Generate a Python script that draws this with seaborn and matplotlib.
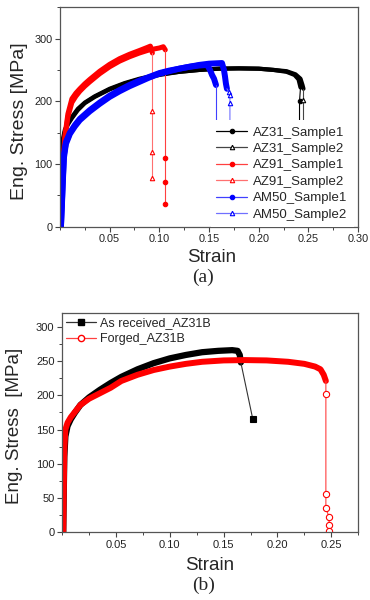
import numpy as np
import matplotlib
matplotlib.use("Agg")
import matplotlib.pyplot as plt
from matplotlib.lines import Line2D
from matplotlib.ticker import FixedLocator, MultipleLocator, StrMethodFormatter
import seaborn as sns

# ---------------- data: panel (a) ----------------
az31_s1_strain = [0.001, 0.002, 0.003, 0.005, 0.008, 0.012, 0.018, 0.025, 0.035, 0.05, 0.065, 0.08,
                  0.10, 0.12, 0.14, 0.16, 0.18, 0.20, 0.215, 0.228, 0.236, 0.240, 0.242, 0.241, 0.241]
az31_s1_stress = [0, 100, 140, 155, 165, 175, 188, 198, 208, 220, 229, 236,
                  243, 247, 250, 252, 252.5, 252, 250, 247, 242, 235, 222, 200, 120]

az31_s2_strain = [0.001, 0.002, 0.003, 0.005, 0.008, 0.012, 0.018, 0.025, 0.035, 0.05, 0.065, 0.08,
                  0.10, 0.12, 0.14, 0.16, 0.18, 0.20, 0.215, 0.228, 0.237, 0.242, 0.244, 0.245, 0.245, 0.245]
az31_s2_stress = [0, 95, 135, 152, 163, 173, 186, 197, 207, 219, 228, 235,
                  242, 247, 250, 252, 252.5, 252, 250, 248, 243, 236, 226, 220, 202, 120]

az91_s1_strain = [0.001, 0.002, 0.003, 0.005, 0.008, 0.012, 0.016, 0.02, 0.025, 0.03, 0.04, 0.05,
                  0.06, 0.07, 0.08, 0.09, 0.10, 0.104, 0.106, 0.106, 0.106, 0.106]
az91_s1_stress = [0, 40, 90, 140, 175, 198, 208, 216, 224, 231, 244, 255,
                  264, 271, 277, 282, 285, 287, 282, 110, 72, 37]

az91_s2_strain = [0.001, 0.002, 0.003, 0.005, 0.008, 0.012, 0.016, 0.02, 0.025, 0.03, 0.04, 0.05,
                  0.06, 0.07, 0.08, 0.088, 0.091, 0.093, 0.093, 0.093, 0.093]
az91_s2_stress = [0, 50, 100, 145, 180, 204, 213, 220, 228, 235, 248, 259,
                  268, 275, 281, 286, 288, 277, 185, 120, 78]

am50_s1_strain = [0.001, 0.002, 0.003, 0.004, 0.006, 0.01, 0.015, 0.02, 0.03, 0.04, 0.05, 0.06,
                  0.07, 0.08, 0.09, 0.10, 0.11, 0.12, 0.13, 0.14, 0.148, 0.151, 0.153, 0.155, 0.157, 0.157]
am50_s1_stress = [0, 40, 80, 115, 135, 150, 162, 172, 186, 198, 209, 218,
                  226, 233, 239, 245, 249, 252, 255, 257, 258, 250, 242, 236, 226, 130]

am50_s2_strain = [0.001, 0.002, 0.003, 0.004, 0.006, 0.01, 0.015, 0.02, 0.03, 0.04, 0.05, 0.06,
                  0.07, 0.08, 0.09, 0.10, 0.11, 0.12, 0.13, 0.14, 0.15, 0.163, 0.165, 0.166, 0.167,
                  0.168, 0.170, 0.171, 0.171, 0.171]
am50_s2_stress = [0, 35, 75, 110, 132, 148, 160, 170, 184, 196, 207, 216,
                  224, 231, 238, 244, 248, 252, 255, 258, 260, 261, 250, 240, 228,
                  220, 215, 210, 198, 130]

labels_a = ["AZ31_Sample1", "AZ31_Sample2", "AZ91_Sample1", "AZ91_Sample2", "AM50_Sample1", "AM50_Sample2"]

# ---------------- data: panel (b) ----------------
asrec_strain = [0.001, 0.0015, 0.002, 0.003, 0.005, 0.008, 0.012, 0.017, 0.025, 0.035, 0.045, 0.055,
                0.07, 0.085, 0.10, 0.115, 0.13, 0.145, 0.158, 0.163, 0.165, 0.166, 0.177]
asrec_stress = [0, 60, 110, 140, 155, 165, 175, 186, 197, 208, 218, 227,
                238, 247, 254, 259, 263, 265, 266, 265, 259, 248, 166]

forged_strain = [0.001, 0.0015, 0.002, 0.003, 0.005, 0.008, 0.012, 0.017, 0.025, 0.035, 0.045, 0.055,
                 0.07, 0.085, 0.10, 0.115, 0.13, 0.15, 0.17, 0.19, 0.21, 0.225, 0.235, 0.240, 0.243,
                 0.245, 0.245, 0.245, 0.245, 0.248, 0.248, 0.248]
forged_stress = [0, 60, 120, 150, 160, 168, 176, 186, 195, 203, 211, 221,
                 230, 237, 242, 246, 249, 251, 251.5, 251, 249, 246, 242, 238, 230,
                 221, 202, 56, 35, 22, 10, 2]

labels_b = ["As received_AZ31B", "Forged_AZ31B"]

xticks_a = [0.05, 0.10, 0.15, 0.20, 0.25, 0.30]
yticks_a = [0, 100, 200, 300]
xticks_b = [0.05, 0.10, 0.15, 0.20, 0.25]
yticks_b = [0, 50, 100, 150, 200, 250, 300]

# ---------------- style ----------------
sns.set_style("ticks")
plt.rcParams['font.family'] = ['Liberation Sans', 'DejaVu Sans']

fig = plt.figure(figsize=(3.7, 6.0), dpi=100)
fig.patch.set_facecolor('white')
ax1 = fig.add_axes([0.162, 0.622, 0.806, 0.366])
ax2 = fig.add_axes([0.168, 0.113, 0.800, 0.365])


def draw_series(ax, strain, stress, color, line_color, marker, mfc, band_lw, ms):
    e = np.asarray(strain, float)
    s = np.asarray(stress, float)
    idx = np.arange(len(s))
    dense = (idx <= s.argmax()) | (s >= 0.84 * s.max())
    cut = int(np.argmax(~dense)) if (~dense).any() else len(s)
    sns.lineplot(x=e[:cut], y=s[:cut], ax=ax, color=color, linewidth=band_lw,
                 sort=False, estimator=None, legend=False, solid_capstyle='round',
                 solid_joinstyle='round')
    sns.lineplot(x=e[cut - 1:], y=s[cut - 1:], ax=ax, color=line_color, linewidth=0.8,
                 sort=False, estimator=None, legend=False)
    ax.plot(e[cut:], s[cut:], ls='none', marker=marker, ms=ms, mfc=mfc, mec=color, mew=0.8)


specs_a = [
    (az31_s1_strain, az31_s1_stress, '#000000', '#000000', 'o', '#000000', 3.0),
    (az31_s2_strain, az31_s2_stress, '#000000', '#444444', '^', 'white', 3.0),
    (az91_s1_strain, az91_s1_stress, '#ff0000', '#ff4040', 'o', '#ff0000', 3.6),
    (az91_s2_strain, az91_s2_stress, '#ff0000', '#ff7070', '^', 'white', 3.6),
    (am50_s1_strain, am50_s1_stress, '#0000ff', '#4040ff', 'o', '#0000ff', 4.3),
    (am50_s2_strain, am50_s2_stress, '#0000ff', '#7070ff', '^', 'white', 4.3),
]
for e, s, c, lc, m, mfc, bw in specs_a:
    draw_series(ax1, e, s, c, lc, m, mfc, bw, 3.2)

handles_a = [Line2D([], [], color=lc, lw=0.9, marker=m, mfc=mfc, mec=c, ms=3.2, mew=0.8)
             for e, s, c, lc, m, mfc, bw in specs_a]
leg1 = ax1.legend(handles_a, labels_a, loc='lower left', bbox_to_anchor=(0.505, 0.0),
                  fontsize=9.5, frameon=True, framealpha=1.0, edgecolor='none', fancybox=False,
                  handlelength=2.3, handletextpad=0.5, labelspacing=0.32, borderpad=0.45,
                  borderaxespad=0.0)

draw_series(ax2, asrec_strain, asrec_stress, '#000000', '#333333', 's', '#000000', 4.5, 4.0)
draw_series(ax2, forged_strain, forged_stress, '#ff0000', '#ff4040', 'o', 'white', 4.3, 4.5)
handles_b = [Line2D([], [], color='#333333', lw=0.9, marker='s', mfc='#000000', mec='#000000', ms=4),
             Line2D([], [], color='#ff4040', lw=0.9, marker='o', mfc='white', mec='#ff0000', ms=4.5)]
ax2.legend(handles_b, labels_b, loc='upper left', bbox_to_anchor=(0.0, 1.0), fontsize=9,
           frameon=False, handlelength=2.4, handletextpad=0.3, labelspacing=0.35,
           borderpad=0.2, borderaxespad=0.1)

# ---------------- axes formatting ----------------
for ax, xt, yt, xlim, ylim, ymin, tfs in [
        (ax1, xticks_a, yticks_a, (0, 0.30), (0, 350), 50, 7.8),
        (ax2, xticks_b, yticks_b, (0, 0.275), (0, 320), 25, 8.0)]:
    ax.set_xlim(*xlim)
    ax.set_ylim(*ylim)
    ax.xaxis.set_major_locator(FixedLocator(xt))
    ax.xaxis.set_major_formatter(StrMethodFormatter('{x:.2f}'))
    ax.xaxis.set_minor_locator(MultipleLocator(0.025))
    ax.yaxis.set_major_locator(FixedLocator(yt))
    ax.yaxis.set_minor_locator(MultipleLocator(ymin))
    ax.tick_params(which='major', direction='out', length=3.5, width=0.8, colors='#444444',
                   labelcolor='#222222', labelsize=tfs, pad=2)
    ax.tick_params(which='minor', direction='out', length=2, width=0.7, colors='#444444')
    for sp in ax.spines.values():
        sp.set_visible(True)
        sp.set_color('#555555')
        sp.set_linewidth(0.9)
    ax.set_facecolor('white')

ax1.set_xlabel("Strain", fontsize=13.5)
ax1.set_ylabel("Eng. Stress [MPa]", fontsize=14)
ax1.xaxis.set_label_coords(0.51, -0.10)
ax1.yaxis.set_label_coords(-0.107, 0.48)

ax2.set_xlabel("Strain", fontsize=13.5)
ax2.set_ylabel("Eng. Stress  [MPa]", fontsize=13.5)
ax2.xaxis.set_label_coords(0.497, -0.115)
ax2.yaxis.set_label_coords(-0.132, 0.484)

fig.text(0.549, 0.538, "(a)", ha='center', va='center', fontsize=14,
         family=['Liberation Serif', 'DejaVu Serif'])
fig.text(0.549, 0.025, "(b)", ha='center', va='center', fontsize=14,
         family=['Liberation Serif', 'DejaVu Serif'])

fig.savefig("out.png", dpi=100, facecolor='white')
